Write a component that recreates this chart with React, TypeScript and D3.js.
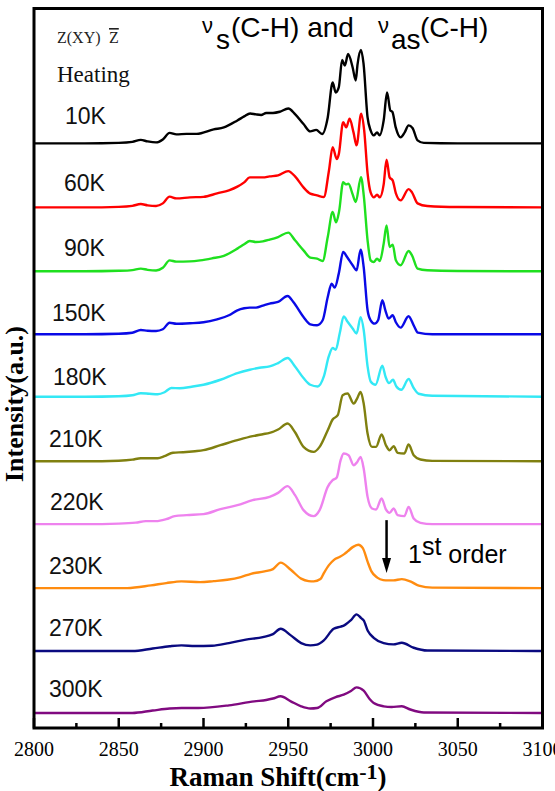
import React from "react";
import * as d3 from "d3";

// Raman spectra in the C-H stretching region, stacked by temperature (heating run)
const temperatures = ["10K", "60K", "90K", "150K", "180K", "210K", "220K", "230K", "270K", "300K"];
const offsets = [570, 506, 442, 379, 316.5, 252, 189, 125, 62, 0];
const colors = ["#000000", "#ff0000", "#1fe01f", "#0a0ae6", "#33e8f5", "#808010", "#ee82ee", "#ff8c10", "#0a0a80", "#800a80"];

const s10K: [number, number][] = [[2800,0],[2830,0],[2850,0.5],[2858,1.5],[2863,3.5],[2867,2],[2872,1],[2876,4],[2880,10.5],[2884,9],[2890,9.5],[2896,9.5],[2906,14],[2912,16],[2920,23],[2924,27],[2927.5,30],[2931,29],[2934,28.5],[2937,30.5],[2941,30.5],[2945,31.7],[2950,35],[2954,29.4],[2959,19.4],[2963,12],[2966.5,13.5],[2970,9.4],[2973.3,26],[2976.2,61],[2978,51],[2979.8,56],[2981.8,83.4],[2983.4,78],[2985.3,89.4],[2988,76],[2989.8,63],[2990.9,79.4],[2992.9,93.4],[2994.4,80],[2996.8,26],[2998.6,13],[3000.4,8],[3002.4,11],[3003.9,8],[3006.3,23],[3008.3,51],[3010.2,33],[3011.4,31.7],[3013.4,16],[3016.3,6],[3018.7,11],[3021,18],[3023.3,15.5],[3026.3,3],[3030,0.5],[3050,0],[3100,0]];
const s60K: [number, number][] = [[2800,0],[2830,0],[2850,0.5],[2858,1.5],[2863,3.3],[2867,2],[2872,1.3],[2876,4],[2880,10.7],[2884,9],[2892,10],[2900,10.5],[2908,14],[2915,17],[2920,20.7],[2924,25],[2927.3,30],[2931,30],[2935,30],[2939,31],[2944,32],[2950,36.3],[2954,31],[2959,20],[2963,13.7],[2967,12],[2971,10.3],[2974,36.7],[2976.2,60.3],[2978.6,48.3],[2979.8,53],[2982.4,85.3],[2984.2,80],[2986.2,88.7],[2988.5,75],[2990.3,62],[2993,93.7],[2994.8,77],[2996.8,34],[2998.6,15],[3000.6,10],[3002.4,12.7],[3004,10],[3006.3,23],[3008,47.7],[3009.8,30],[3011.6,27],[3013.5,14],[3016.3,7],[3021,18.3],[3023,15],[3026.3,4],[3032,1.3],[3050,0.3],[3100,0]];
const s90K: [number, number][] = [[2800,0],[2830,0],[2850,0.5],[2858,1.2],[2863,2.7],[2867,1.5],[2872,0.8],[2876,3.5],[2880,11],[2884,9.7],[2892,10],[2898,11],[2905,13],[2912,15.5],[2920,22.7],[2924,27],[2927.3,30.3],[2931,29.3],[2935,30],[2939,31.7],[2944,34.3],[2950,38.7],[2954,31],[2959,21],[2963,13.7],[2967,12.7],[2970.3,10.3],[2973.3,34.3],[2976.2,59.3],[2978.2,49],[2980,60],[2982.4,89.3],[2984,87],[2985.5,87.7],[2988,77],[2989.8,69.3],[2992.9,94.3],[2994.6,75],[2996.8,31],[2998.6,11],[3000.4,9.3],[3002.4,12.7],[3004,10.3],[3006.3,27.7],[3008,46],[3009.8,24.3],[3011.6,26.7],[3013.5,11],[3016.3,6],[3021,20.3],[3023,16],[3026.3,2.7],[3032,1],[3050,0.3],[3100,0]];
const s150K: [number, number][] = [[2800,0],[2830,0],[2850,0.5],[2858,1.5],[2863,4.3],[2867,3.5],[2872,3.3],[2876,5],[2880,11.5],[2884,10.5],[2892,11],[2900,12],[2908,15],[2915,19],[2920,24],[2924,26],[2927.3,26.7],[2931,26.7],[2935,28.7],[2939,30.7],[2944,32.3],[2949.6,38.3],[2953,32.3],[2959,17.3],[2963,10],[2967,9],[2970.3,14],[2973.3,37.3],[2975.6,50.7],[2977.4,46.7],[2979.8,60.7],[2982.4,82.3],[2984.7,77.3],[2988,69],[2990.3,64],[2992.7,84.7],[2994.5,67.3],[2996.8,24],[2998.6,14],[3001,10.7],[3003,14],[3005.5,34],[3007.3,24],[3009.2,15.7],[3011.6,19],[3013.4,12.3],[3016.3,6.7],[3021,18],[3024,9],[3026.5,1.7],[3035,0],[3100,0]];
const s180K: [number, number][] = [[2800,0],[2830,0],[2850,0.5],[2858,1.5],[2863,3.5],[2868,3],[2873,2.5],[2877,4.5],[2881,8.7],[2886,8.5],[2893,10],[2900,12],[2910,17],[2920,23.7],[2927.3,27],[2933,29],[2939,30.3],[2944,33.7],[2949.6,38.7],[2954,30.3],[2959,18.7],[2963,12],[2967.4,10.3],[2971,20.3],[2973.9,40.3],[2976.2,48.7],[2978,47],[2980.4,63.7],[2982.7,80.3],[2985,75],[2988,68.3],[2990.3,63.3],[2992.7,79.7],[2994.5,67],[2996.8,30.3],[2998.6,15.3],[3001.5,12],[3005.5,31],[3007.4,20],[3009.4,13.7],[3011.8,17],[3013.8,10.3],[3016.7,7],[3021,17.7],[3024,8.7],[3026.9,3],[3035,1],[3100,0]];
const s210K: [number, number][] = [[2800,0],[2830,0],[2850,0.5],[2858,1.5],[2863,3],[2868,3],[2873,3],[2877,5],[2882,8.5],[2888,9],[2895,10],[2900,11],[2910,16],[2920,21],[2929,25],[2935,27],[2939,28.3],[2944,31.7],[2949.6,37.7],[2954,29],[2959,14.3],[2965,9.3],[2968.5,14.3],[2973.3,31],[2976.2,41.7],[2979.2,46],[2982.1,66],[2985,67.7],[2988.6,57.7],[2990.6,62.7],[2992.7,69.3],[2994.5,57.7],[2996.8,27.7],[2999.4,14.3],[3001.8,14.3],[3005.1,26.7],[3007.6,16],[3009.8,11],[3012.2,15],[3014.5,8.3],[3018.5,7.7],[3021,16.7],[3024,6],[3028,1.7],[3035,0.3],[3100,0]];
const s220K: [number, number][] = [[2800,0],[2830,0],[2850,0.5],[2860,1.5],[2866,3],[2872,3],[2878,5],[2883,8],[2890,9],[2900,10],[2910,15],[2920,19],[2929,24],[2939,27.3],[2944,31.3],[2949.6,38],[2954,29],[2959,14],[2965,8],[2968.5,14],[2973.3,37.3],[2976.2,44],[2978.6,46.7],[2980.9,64],[2982.7,70.7],[2985.6,69],[2988.6,59],[2990.6,62],[2992.7,67.3],[2994.5,55.7],[2996.8,27.3],[2999.4,15.7],[3001.8,14.7],[3005.1,25.7],[3007.6,14.7],[3009.8,11.3],[3012.2,15.7],[3014.5,9],[3018.5,8],[3021,17.3],[3024,5.7],[3028,1.3],[3035,0],[3100,0]];
const s230K: [number, number][] = [[2800,0],[2855,0],[2869,2.7],[2878,5],[2887,6.7],[2898,6],[2906,7],[2914,8.3],[2922,11],[2928,14.3],[2936,16.7],[2941,19],[2945.5,25.5],[2951.5,18.3],[2957.6,9.5],[2962,7],[2965,6.7],[2969,9],[2971,15],[2974,23],[2977,28.3],[2980.5,31.3],[2983,34],[2985,36.7],[2988,41],[2991.3,43.4],[2994,40],[2996.8,26.5],[2999,17],[3002.5,10.5],[3006,8],[3009,7.7],[3012,7.7],[3017,9],[3022,6.7],[3027,2.5],[3035,0.5],[3100,0]];
const s270K: [number, number][] = [[2800,0],[2858,0],[2870,2.5],[2880,4.8],[2887,5.7],[2895,5],[2905,5.3],[2915,8],[2925,11.5],[2935,14],[2941,17],[2945.5,22.3],[2951.5,15.7],[2957.6,8],[2963,5.7],[2967,6.5],[2971,10.7],[2976.8,22.3],[2981,24.5],[2983,25.7],[2987,31],[2990.3,36.7],[2993,33],[2994.5,30.7],[2997,20],[3000.4,13.3],[3006.3,8],[3012,6.7],[3017,8.3],[3024,3.3],[3032,0.5],[3100,0]];
const s300K: [number, number][] = [[2800,0],[2858,0],[2870,2.5],[2880,4.5],[2887,5],[2897,5],[2915,7.7],[2930,11.7],[2937,13],[2941,14.5],[2945.5,16.7],[2951.5,11.7],[2957.6,6.7],[2963,4.5],[2967,5],[2972.5,11.7],[2978,16],[2982.7,18.3],[2987,22],[2990.3,25.7],[2994.5,22.3],[2998,14],[3000.4,10],[3006.3,6.7],[3011,6],[3017,6.7],[3022,3.5],[3030,0.5],[3100,0]];

const spectra = [s10K, s60K, s90K, s150K, s180K, s210K, s220K, s230K, s270K, s300K];

const majorTicks = [2800, 2850, 2900, 2950, 3000, 3050, 3100];
const minorTicks = [2825, 2875, 2925, 2975, 3025, 3075];

// "1st order" marker
const arrowWavenumber = 3008;
const arrowFrom = 193;
const arrowTo = 140;

const W = 555;
const H = 791;

// label positions (left x, baseline y)
const labelPos: [number, number][] = [
  [65, 124], [64, 191], [64, 256], [52, 321], [53, 385],
  [49, 447], [50, 510], [49, 574], [49, 636], [49, 697],
];

export default function App() {
  const x = d3.scaleLinear().domain([2800, 3100]).range([34, 542.5]);
  const y = d3.scaleLinear().domain([-15, 705]).range([728, 8.5]);

  const line = d3
    .line<[number, number]>()
    .x((d) => x(d[0]))
    .y((d) => y(d[1]))
    .curve(d3.curveMonotoneX);

  const [x0, x1] = x.range();
  const yTop = y(705);
  const yBot = y(-15);

  const ax = x(arrowWavenumber);
  const aTip = y(arrowTo);
  const aTop = y(arrowFrom);

  return (
    <svg
      width={W}
      height={H}
      viewBox={`0 0 ${W} ${H}`}
      style={{ position: "absolute", left: 0, top: 0, background: "#fff" }}
    >
      <rect x={0} y={0} width={W} height={H} fill="#fff" />

      {spectra.map((s, i) => (
        <path
          key={temperatures[i]}
          d={line(s.map((p) => [p[0], p[1] + offsets[i]] as [number, number])) || ""}
          fill="none"
          stroke={colors[i]}
          strokeWidth={2.4}
          strokeLinejoin="round"
        />
      ))}

      {temperatures.map((t, i) => (
        <text
          key={t}
          x={labelPos[i][0]}
          y={labelPos[i][1]}
          fontFamily="'Liberation Sans', Arial, sans-serif"
          fontSize={23}
          fill="#111"
        >
          {t}
        </text>
      ))}

      {/* frame */}
      <rect x={x0} y={yTop} width={x1 - x0} height={yBot - yTop} fill="none" stroke="#000" strokeWidth={3} />

      {/* bottom ticks, pointing inward */}
      {majorTicks.map((t) => (
        <line key={"M" + t} x1={x(t)} x2={x(t)} y1={yBot} y2={yBot - 10} stroke="#000" strokeWidth={2.5} />
      ))}
      {minorTicks.map((t) => (
        <line key={"m" + t} x1={x(t)} x2={x(t)} y1={yBot} y2={yBot - 5} stroke="#000" strokeWidth={2.5} />
      ))}
      {majorTicks.map((t) => (
        <text
          key={"L" + t}
          x={x(t)}
          y={756}
          textAnchor="middle"
          fontFamily="'Liberation Serif', 'Times New Roman', serif"
          fontSize={20}
          fill="#000"
        >
          {t}
        </text>
      ))}

      {/* axis titles */}
      <text
        x={278}
        y={786}
        textAnchor="middle"
        fontFamily="'Liberation Serif', 'Times New Roman', serif"
        fontWeight="bold"
        fontSize={27}
        fill="#000"
      >
        Raman Shift(cm
        <tspan dy={-7} fontSize={22}>-1</tspan>
        <tspan dy={7}>)</tspan>
      </text>
      <text
        transform="translate(23,404) rotate(-90)"
        textAnchor="middle"
        fontFamily="'Liberation Serif', 'Times New Roman', serif"
        fontWeight="bold"
        fontSize={26}
        fill="#000"
      >
        Intensity(a.u.)
      </text>

      {/* header annotations */}
      <text x={57} y={43} fontFamily="'Liberation Serif', 'Times New Roman', serif" fontSize={16} fill="#222">
        Z(XY)
      </text>
      <text
        x={109}
        y={43}
        fontFamily="'Liberation Serif', 'Times New Roman', serif"
        fontSize={16}
        fill="#222"
        style={{ textDecoration: "overline" }}
      >
        Z
      </text>
      <text x={57} y={82} fontFamily="'Liberation Serif', 'Times New Roman', serif" fontSize={23} fill="#111">
        Heating
      </text>

      <g fontFamily="'Liberation Sans', Arial, sans-serif" fill="#000">
        <text x={202} y={33} fontSize={22}>ν</text>
        <text x={216} y={49} fontSize={28}>s</text>
        <text x={231} y={37} fontSize={28}>(C-H) and</text>
        <text x={378} y={33} fontSize={22}>ν</text>
        <text x={391} y={49} fontSize={28}>as</text>
        <text x={420} y={37} fontSize={28}>(C-H)</text>
      </g>

      {/* 1st order arrow */}
      <line x1={ax} x2={ax} y1={aTop} y2={aTip - 12} stroke="#000" strokeWidth={2.5} />
      <path d={`M${ax - 4.5},${aTip - 15} L${ax + 4.5},${aTip - 15} L${ax},${aTip} Z`} fill="#000" />
      <text x={408} y={563} fontFamily="'Liberation Sans', Arial, sans-serif" fontSize={25} fill="#000">
        1<tspan dy={-8}>st</tspan>
        <tspan dy={8}> order</tspan>
      </text>
    </svg>
  );
}
